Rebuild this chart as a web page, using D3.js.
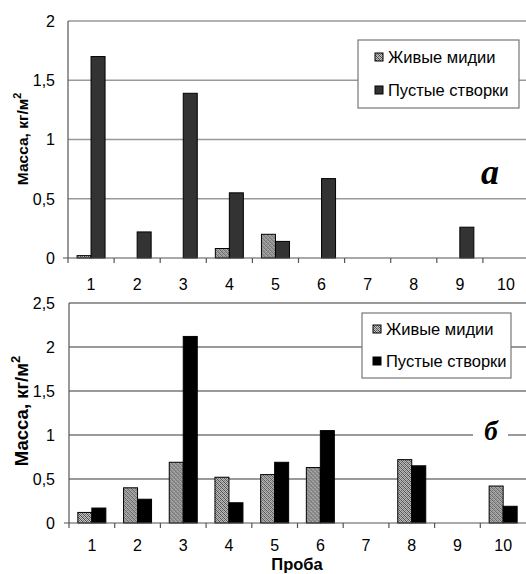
<!DOCTYPE html>
<html><head><meta charset="utf-8">
<script src="https://cdn.jsdelivr.net/npm/d3@7"></script>
<style>body{margin:0;background:#fff}svg{display:block}</style>
</head><body>
<svg id="c" width="526" height="574"></svg>
<script>
const categories = ["1","2","3","4","5","6","7","8","9","10"];
const seriesNames = ["Живые мидии","Пустые створки"];
const liveA  = [0.02,0,0,0.08,0.20,0,0,0,0,0];
const emptyA = [1.70,0.22,1.39,0.55,0.14,0.67,0,0,0.26,0];
const liveB  = [0.12,0.40,0.69,0.52,0.55,0.63,0,0.72,0,0.42];
const emptyB = [0.17,0.27,2.12,0.23,0.69,1.05,0,0.65,0,0.19];
const ticksA = [0,0.5,1,1.5,2];
const ticksB = [0,0.5,1,1.5,2,2.5];
const panelLabels = ["а","б"];

const svg = d3.select("#c");
const defs = svg.append("defs");
const pat = defs.append("pattern").attr("id","hatch").attr("patternUnits","userSpaceOnUse")
  .attr("width",4).attr("height",4);
pat.append("rect").attr("width",4).attr("height",4).attr("fill","#c4c4c4");
[[0,0,"#444"],[2,0,"#666"],[1,1,"#444"],[3,1,"#888"],[2,2,"#444"],[0,2,"#666"],[3,3,"#444"],[1,3,"#888"]]
  .forEach(([x,y,c])=>pat.append("rect").attr("x",x).attr("y",y).attr("width",1).attr("height",1).attr("fill",c));

const FONT = "'Liberation Sans', Arial, sans-serif";

function panel(o){
  const g = svg.append("g");
  const x0 = d3.scaleBand().domain(categories).range([o.left, o.left + o.step*10]).padding(0);
  const bw = x0.bandwidth();
  const x1 = d3.scaleBand().domain(seriesNames).range([bw/2-14, bw/2+14]);
  const y = d3.scaleLinear().domain([0, o.max]).range([o.bottom, o.top]);

  g.selectAll(".grid").data(o.ticks.filter(t=>t>0)).enter().append("line")
    .attr("x1",o.left).attr("x2",o.left+o.step*10)
    .attr("y1",d=>y(d)).attr("y2",d=>y(d))
    .attr("stroke",o.grid).attr("stroke-width",1.3);

  const data = categories.map((c,i)=>({c, v:[o.live[i], o.empty[i]]}));
  const cg = g.selectAll(".cat").data(data).enter().append("g")
    .attr("transform",d=>`translate(${x0(d.c)},0)`);
  cg.selectAll("rect").data(d=>d.v.map((v,j)=>({v, s:seriesNames[j]})).filter(d=>d.v>0))
    .enter().append("rect")
    .attr("x",d=>x1(d.s)).attr("width",x1.bandwidth())
    .attr("y",d=>y(d.v)).attr("height",d=>o.bottom-y(d.v))
    .attr("fill",d=>d.s===seriesNames[0]?"url(#hatch)":o.dark)
    .attr("stroke","#000").attr("stroke-width",1);

  g.append("line").attr("x1",o.left).attr("x2",o.left).attr("y1",o.top).attr("y2",o.bottom+5)
    .attr("stroke","#555").attr("stroke-width",1.2);
  g.append("line").attr("x1",o.left-5).attr("x2",o.left+o.step*10).attr("y1",o.bottom).attr("y2",o.bottom)
    .attr("stroke","#555").attr("stroke-width",1.2);
  g.selectAll(".xt").data(categories.slice(1)).enter().append("line")
    .attr("x1",d=>x0(d)).attr("x2",d=>x0(d)).attr("y1",o.bottom).attr("y2",o.bottom+5)
    .attr("stroke","#555").attr("stroke-width",1.2);

  g.selectAll(".xl").data(categories).enter().append("text")
    .attr("x",d=>x0(d)+bw/2).attr("y",o.xlabY).attr("text-anchor","middle")
    .attr("font-family",FONT).attr("font-size",16).text(d=>d);
  g.selectAll(".yl").data(o.ticks).enter().append("text")
    .attr("x",55).attr("y",d=>y(d)).attr("dy","0.36em").attr("text-anchor","end")
    .attr("font-family",FONT).attr("font-size",16).text(d=>String(d).replace(".",","));

  const yt = g.append("text").attr("transform",`translate(${o.ytX},${o.ytY}) rotate(-90)`)
    .attr("text-anchor","middle").attr("font-family",FONT).attr("font-weight","bold")
    .attr("font-size",o.ytSize);
  yt.append("tspan").text("Масса, кг/м");
  yt.append("tspan").attr("font-size",o.ytSize*0.7).attr("dy",-o.ytSize*0.45).text("2");

  const L = o.legend;
  g.append("rect").attr("x",L.x).attr("y",L.y).attr("width",L.w).attr("height",L.h)
    .attr("fill","#fff").attr("stroke","#777").attr("stroke-width",1.2);
  seriesNames.forEach((s,i)=>{
    const cy = L.y + L.r0 + i*L.dy;
    g.append("rect").attr("x",L.sx).attr("y",cy-4).attr("width",8).attr("height",8)
      .attr("fill",i===0?"url(#hatch)":o.dark).attr("stroke","#000").attr("stroke-width",1);
    g.append("text").attr("x",L.sx+13).attr("y",cy).attr("dy","0.36em")
      .attr("font-family",FONT).attr("font-size",16.5).text(s);
  });

  if(o.labBg){
    g.append("rect").attr("x",o.labBg[0]).attr("y",o.labBg[1]).attr("width",o.labBg[2]).attr("height",o.labBg[3]).attr("fill","#fff");
  }
  g.append("text").attr("x",o.labX).attr("y",o.labY).attr("text-anchor","middle")
    .attr("font-family","'Liberation Serif','Times New Roman',serif").attr("font-style","italic")
    .attr("font-weight","bold").attr("font-size",o.labSize).text(o.lab);
}

panel({left:68, step:46.1, top:21, bottom:258, max:2, ticks:ticksA, live:liveA, empty:emptyA,
  dark:"#333", grid:"#999", xlabY:290, ytX:28, ytY:139, ytSize:15.5,
  legend:{x:358, y:40, w:161, h:68, sx:375, r0:17, dy:33},
  lab:panelLabels[0], labX:490, labY:184, labSize:36});

panel({left:69, step:45.7, top:303, bottom:523, max:2.5, ticks:ticksB, live:liveB, empty:emptyB,
  dark:"#000", grid:"#777", xlabY:551, ytX:28, ytY:411, ytSize:18.5,
  legend:{x:362, y:313, w:149, h:65, sx:373, r0:16, dy:32},
  lab:panelLabels[1], labX:491, labY:440, labSize:27, labBg:[473,425,35,20]});

svg.append("text").attr("x",297).attr("y",570.3).attr("text-anchor","middle")
  .attr("font-family",FONT).attr("font-weight","bold").attr("font-size",16.5).text("Проба");
</script>
</body></html>
